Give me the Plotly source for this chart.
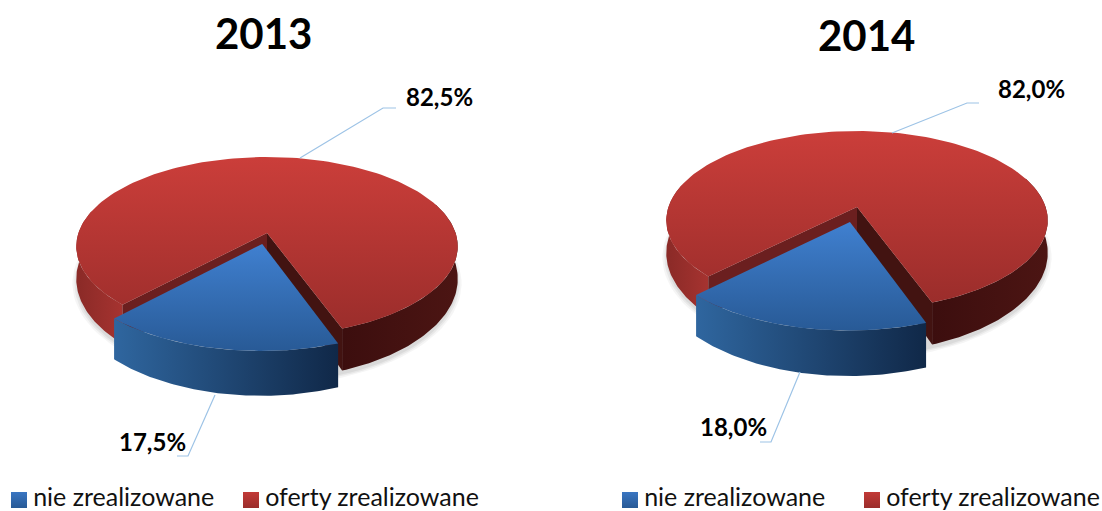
import numpy as np
import plotly.graph_objects as go

# ---- data ----
YEARS = ["2013", "2014"]
CATEGORIES = ["nie zrealizowane", "oferty zrealizowane"]
NOT_REALIZED = [17.5, 18.0]
REALIZED = [82.5, 82.0]

# ---- pie placement on the page (pixel-like axes) ----
APEX = [(267, 233), (857, 207)]
EXPLODE = [0.125, 0.17]
START_DEG = 160.0
AX, RY, PERSP, DEPTH = 188.6, 87.4, 0.15, 31.0

RED_TOP = [[0, "#CB3E3A"], [1, "#9B2D2B"]]
BLUE_TOP = [[0, "#4080D0"], [1, "#285A96"]]
RED_LEFT = [[0, "#8A2A27"], [1, "#A63330"]]
RED_RIGHT = [[0, "#3C0E0E"], [1, "#4C1513"]]
BLUE_SIDE = [[0, "#2F669F"], [1, "#102848"]]
LEADER = "#9DC3E6"
LEADERS = [
    [[(300, 158), (383, 108), (396, 108)], [(215, 395), (188, 456), (177, 456)]],
    [[(892, 133), (967, 103), (979, 103)], [(800, 372), (771, 442), (760, 442)]],
]
LABEL_POS = [[(439, 96), (152, 441)], [(1031, 88), (733, 426)]]
TITLE_POS = [(263, 33), (866, 35)]
LEGEND_SWATCH = [[(19, 500), (251, 500)], [(630, 500), (872, 500)]]

fig = go.Figure()


def project(apex, deg, r=1.0, off=(0.0, 0.0), drop=False):
    t = np.radians(np.asarray(deg, dtype=float))
    u = r * np.sin(t) + off[0]
    v = -r * np.cos(t) + off[1]
    w = 1 - PERSP * v
    x = apex[0] + AX * u / w
    y = apex[1] + RY * v / w
    if drop:
        y = y + DEPTH / w ** 2
    return x, y


def poly(x, y, colors, orient, start, stop):
    fig.add_trace(go.Scatter(
        x=list(x), y=list(y), mode="lines", line=dict(width=0), fill="toself",
        fillgradient=dict(type=orient, colorscale=colors, start=start, stop=stop),
        hoverinfo="skip", showlegend=False))


def flat(x, y, color):
    fig.add_trace(go.Scatter(
        x=list(x), y=list(y), mode="lines", line=dict(width=0), fill="toself",
        fillcolor=color, hoverinfo="skip", showlegend=False))


def side(apex, a, b, colors, off=(0.0, 0.0)):
    d = np.linspace(a, b, 80)
    x1, y1 = project(apex, d, off=off)
    x2, y2 = project(apex, d[::-1], off=off, drop=True)
    x = np.r_[x1, x2]
    y = np.r_[y1, y2]
    poly(x, y, colors, "horizontal", float(x.min()), float(x.max()))


def wall(apex, deg, color):
    x0, y0 = project(apex, 0, r=0.0)
    xb, yb = project(apex, 0, r=0.0, drop=True)
    x1, y1 = project(apex, deg)
    x2, y2 = project(apex, deg, drop=True)
    flat([x0, x1, x2, xb], [y0, y1, y2, yb], color)


def top(apex, a, b, colors, off=(0.0, 0.0)):
    d = np.linspace(a, b, 160)
    x, y = project(apex, d, off=off)
    cx, cy = project(apex, 0, r=0.0, off=off)
    xs = np.r_[cx, x]
    ys = np.r_[cy, y]
    # the y axis is reversed, so the gradient runs from the numerically smallest y
    poly(xs, ys, colors, "vertical", float(ys.min()), float(ys.max()))


for i, year in enumerate(YEARS):
    apex = APEX[i]
    blue_span = NOT_REALIZED[i] / 100 * 360
    red_span = REALIZED[i] / 100 * 360
    blue_end = START_DEG + blue_span
    mid = np.radians(START_DEG + blue_span / 2)
    off = (EXPLODE[i] * np.sin(mid), -EXPLODE[i] * np.cos(mid))

    # soft shadow below the pie
    d = np.linspace(0, 360, 120)
    for grow, alpha in ((1.02, 0.04), (1.01, 0.05), (1.0, 0.06)):
        sx, sy = project(apex, d, r=grow, drop=True)
        flat(sx, sy + 4, f"rgba(0,0,0,{alpha})")

    # red slice: outer sides, cut walls, top
    side(apex, 70, START_DEG, RED_RIGHT)
    side(apex, blue_end, 285, RED_LEFT)
    wall(apex, START_DEG, "#421311")
    wall(apex, blue_end, "#6B1F1F")
    top(apex, blue_end, blue_end + red_span, RED_TOP)

    # blue slice, pulled out
    side(apex, START_DEG, blue_end, BLUE_SIDE, off=off)
    top(apex, START_DEG, blue_end, BLUE_TOP, off=off)

    # leader lines
    for pts in LEADERS[i]:
        fig.add_trace(go.Scatter(
            x=[p[0] for p in pts], y=[p[1] for p in pts], mode="lines",
            line=dict(color=LEADER, width=1.2), hoverinfo="skip", showlegend=False))

    # value labels
    vals = [REALIZED[i], NOT_REALIZED[i]]
    for v, p in zip(vals, LABEL_POS[i]):
        fig.add_annotation(x=p[0], y=p[1], text=f"<b>{v:.1f}%</b>".replace(".", ","),
                           showarrow=False, font=dict(family="Lato", size=24, color="#000"))

    # year title
    fig.add_annotation(x=TITLE_POS[i][0], y=TITLE_POS[i][1], text=f"<b>{year}</b>",
                       showarrow=False, font=dict(family="Lato", size=42, color="#000"))

    # legend entries
    for name, col, grad, p in zip(CATEGORIES, ("#3A76C2", "#C23A37"), ("#285A96", "#9B2D2B"),
                                  LEGEND_SWATCH[i]):
        fig.add_trace(go.Scatter(
            x=[p[0]], y=[p[1]], mode="markers+text", text=["\u2009" + name], textposition="middle right",
            textfont=dict(family="Lato", size=25, color="#111"),
            marker=dict(symbol="square", size=16, color=col,
                        gradient=dict(type="vertical", color=grad)),
            hoverinfo="skip", showlegend=False, cliponaxis=False))

fig.update_layout(
    width=1102, height=511, autosize=False,
    margin=dict(l=0, r=0, t=0, b=0),
    paper_bgcolor="white", plot_bgcolor="white", showlegend=False,
    xaxis=dict(range=[0, 1102], visible=False, fixedrange=True),
    yaxis=dict(range=[511, 0], visible=False, fixedrange=True),
)
fig.write_html("out.html", post_script="document.body.style.margin='0';document.documentElement.style.overflow='hidden';",
               config={"displayModeBar": False})
